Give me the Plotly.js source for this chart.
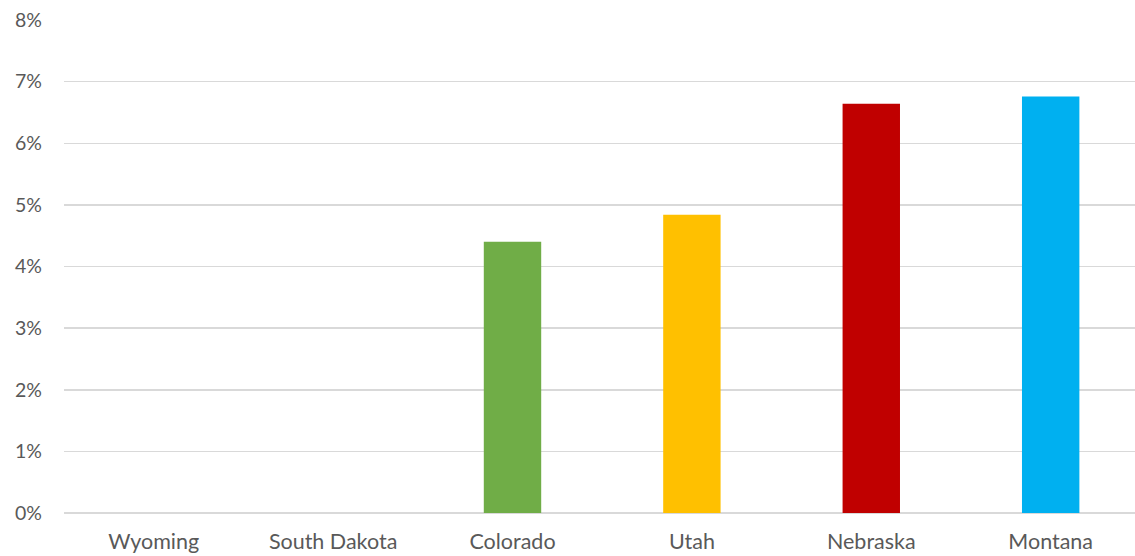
<!DOCTYPE html>
<html>
<head>
<meta charset="utf-8">
<script src="https://cdn.plot.ly/plotly-3.0.1.min.js"></script>
<style>html,body{margin:0;padding:0;background:#fff;}#chart{width:1135px;height:556px;}</style>
</head>
<body>
<div id="chart"></div>
<script>
const states = ["Wyoming", "South Dakota", "Colorado", "Utah", "Nebraska", "Montana"];
const shares = [0, 0, 0.0440, 0.0484, 0.0664, 0.0676];
const barColors = ["#4472C4", "#ED7D31", "#70AD47", "#FFC000", "#C00000", "#00B0F0"];
const yTicks = [0, 0.01, 0.02, 0.03, 0.04, 0.05, 0.06, 0.07, 0.08];

const trace = {
  type: "bar",
  x: states,
  y: shares,
  marker: {color: barColors},
  width: 0.32,
  hoverinfo: "x+y"
};

const layout = {
  width: 1135,
  height: 556,
  margin: {l: 64, r: 0, t: 20, b: 43},
  paper_bgcolor: "#ffffff",
  plot_bgcolor: "#ffffff",
  showlegend: false,
  font: {family: "Lato, 'Open Sans', sans-serif", size: 19, color: "#595959"},
  xaxis: {
    type: "category",
    range: [-0.5, 5.47],
    showgrid: false,
    showline: false,
    zeroline: false,
    ticks: "",
    ticklabelstandoff: 13,
    tickfont: {size: 21.5, color: "#595959"}
  },
  yaxis: {
    range: [0, 0.08],
    tickvals: yTicks,
    tickformat: ".0%",
    showgrid: true,
    gridcolor: "#d9d9d9",
    gridwidth: 1.5,
    zeroline: true,
    zerolinecolor: "#d9d9d9",
    zerolinewidth: 1.5,
    showline: false,
    ticks: "",
    ticklabelstandoff: 21,
    tickfont: {size: 19.5, color: "#595959"}
  }
};

Plotly.newPlot("chart", [trace], layout, {displayModeBar: false, staticPlot: true});
</script>
</body>
</html>
